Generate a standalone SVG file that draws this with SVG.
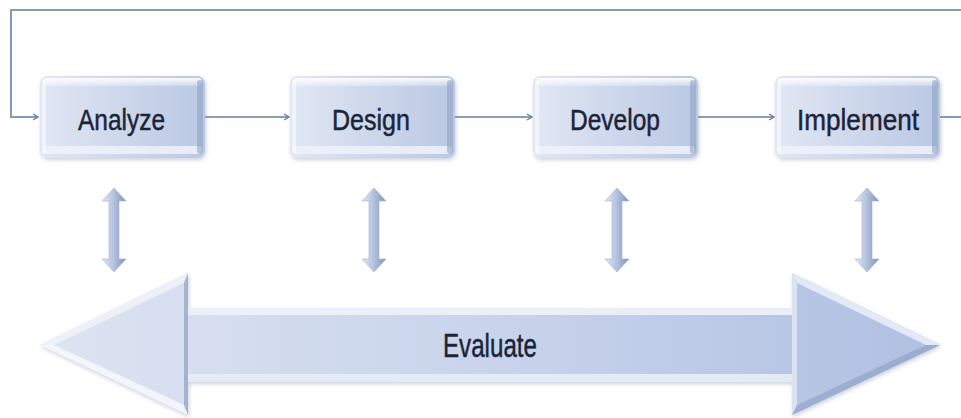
<svg xmlns="http://www.w3.org/2000/svg" xmlns:xlink="http://www.w3.org/1999/xlink" width="961" height="418" viewBox="0 0 961 418">
<style>
.lbl{font-family:"Liberation Sans","Open Sans",sans-serif;fill:#1b2539;stroke:#1b2539;stroke-width:0.5;text-anchor:middle;font-size:30px}
.big{font-size:33px}
.conn{fill:none;stroke:#687c9e;stroke-width:1.6}
.loop{stroke:#8698b8;stroke-width:2}
</style>
<defs>
<marker id="ah" markerWidth="8" markerHeight="8" refX="6" refY="4" orient="auto" markerUnits="userSpaceOnUse">
<path d="M1,1 L6,4 L1,7" fill="none" stroke="#687c9e" stroke-width="1.4"/>
</marker>
<linearGradient id="gBox" x1="0" y1="0" x2="1" y2="0">
<stop offset="0" stop-color="#e1e7f4"/>
<stop offset="1" stop-color="#bac8e3"/>
</linearGradient>
<linearGradient id="gBand" x1="0" y1="0" x2="0" y2="1">
<stop offset="0" stop-color="#ffffff" stop-opacity="0.95"/>
<stop offset="1" stop-color="#ffffff" stop-opacity="0.25"/>
</linearGradient>
<linearGradient id="gV" x1="0" y1="0" x2="1" y2="0">
<stop offset="0" stop-color="#e2e8f4"/>
<stop offset="0.45" stop-color="#b7c5e1"/>
<stop offset="1" stop-color="#7f92b8"/>
</linearGradient>
<linearGradient id="gBig" x1="0" y1="0" x2="1" y2="0">
<stop offset="0" stop-color="#dde4f2"/>
<stop offset="0.5" stop-color="#c9d4eb"/>
<stop offset="1" stop-color="#b0c0e2"/>
</linearGradient>
<filter id="sh" x="-10%" y="-10%" width="120%" height="130%">
<feDropShadow dx="1" dy="2" stdDeviation="2" flood-color="#8a97b0" flood-opacity="0.45"/>
</filter>
<g id="box">
<rect x="0" y="0" width="165" height="82" rx="8" fill="url(#gBox)" filter="url(#sh)"/>
<rect x="3" y="2" width="159" height="8" rx="4" fill="url(#gBand)"/>
<rect x="3" y="70" width="159" height="8" rx="3" fill="#eef2fa" opacity="0.85"/>
<rect x="157" y="4" width="6" height="74" rx="3" fill="#8e9fc3" opacity="0.55"/>
<rect x="2" y="4" width="4" height="74" rx="2" fill="#ffffff" opacity="0.5"/>
</g>
<polygon id="va" points="0,0 12,13 5,13 5,71 12,71 0,84 -12,71 -5,71 -5,13 -12,13" fill="url(#gV)" stroke="#a6b4d2" stroke-width="0.6"/>
</defs>

<g id="connectors">
<path class="conn loop" d="M940,117 H980 V10 H11 V117 H38" marker-end="url(#ah)"/>
<path class="conn" d="M204,117 H289" marker-end="url(#ah)"/>
<path class="conn" d="M455,117 H532" marker-end="url(#ah)"/>
<path class="conn" d="M698,117 H774" marker-end="url(#ah)"/>
</g>

<g id="analyze">
<use xlink:href="#box" x="40" y="76"/>
<text class="lbl" x="121.5" y="130" textLength="87" lengthAdjust="spacingAndGlyphs">Analyze</text>
</g>
<g id="design">
<use xlink:href="#box" x="290" y="76"/>
<text class="lbl" x="371" y="130" textLength="78" lengthAdjust="spacingAndGlyphs">Design</text>
</g>
<g id="develop">
<use xlink:href="#box" x="533" y="76"/>
<text class="lbl" x="615" y="130" textLength="90" lengthAdjust="spacingAndGlyphs">Develop</text>
</g>
<g id="implement">
<use xlink:href="#box" x="775" y="76"/>
<text class="lbl" x="858" y="130" textLength="122" lengthAdjust="spacingAndGlyphs">Implement</text>
</g>

<g id="links">
<use xlink:href="#va" x="114" y="188"/>
<use xlink:href="#va" x="374" y="188"/>
<use xlink:href="#va" x="617" y="188"/>
<use xlink:href="#va" x="867" y="188"/>
</g>

<g id="evaluate">
<polygon points="40,345 188,273 188,308 792,308 792,273 940,345 792,415 792,382 188,382 188,415" fill="url(#gBig)" filter="url(#sh)"/>
<rect x="188" y="308" width="604" height="7" fill="#eef2fa" opacity="0.9"/>
<rect x="188" y="374" width="604" height="8" fill="#e8edf7" opacity="0.9"/>
<path d="M40,345 L188,273 L184,283 L54,345 Z" fill="#eef2fa" opacity="0.9"/>
<path d="M40,345 L188,415 L184,405 L54,345 Z" fill="#f5f7fc" opacity="0.9"/>
<path d="M184,283 L188,273 L188,415 L184,405 Z" fill="#8e9fc3" opacity="0.7"/>
<path d="M792,273 L940,345 L926,345 L797,283 Z" fill="#e8edf7" opacity="0.9"/>
<path d="M792,415 L940,345 L926,345 L797,405 Z" fill="#8e9fc3" opacity="0.6"/>
<path d="M792,273 L797,283 L797,405 L792,415 Z" fill="#dfe6f3" opacity="0.9"/>
<text class="lbl big" x="490" y="357" textLength="94" lengthAdjust="spacingAndGlyphs">Evaluate</text>
</g>
</svg>
